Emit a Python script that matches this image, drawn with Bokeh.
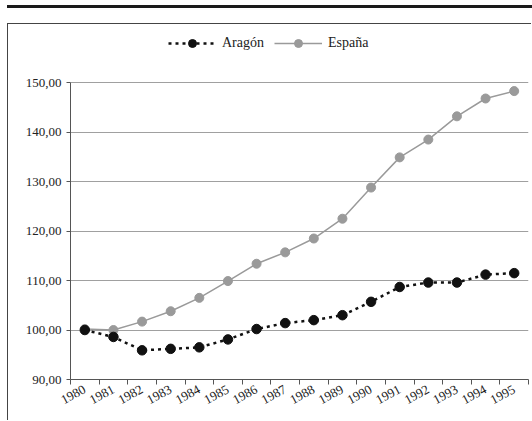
from bokeh.plotting import figure
from bokeh.models import FixedTicker, Legend, LegendItem, Range1d, Div
from bokeh.layouts import column
from bokeh.embed import file_html
from bokeh.resources import INLINE

years = ["1980", "1981", "1982", "1983", "1984", "1985", "1986", "1987",
         "1988", "1989", "1990", "1991", "1992", "1993", "1994", "1995"]
aragon = [100.0, 98.6, 95.9, 96.2, 96.5, 98.1, 100.2, 101.4,
          102.0, 103.0, 105.7, 108.7, 109.6, 109.6, 111.2, 111.5]
espana = [100.2, 100.0, 101.7, 103.8, 106.5, 109.9, 113.4, 115.7,
          118.5, 122.5, 128.8, 134.9, 138.5, 143.2, 146.8, 148.3]
y_ticks = [90, 100, 110, 120, 130, 140, 150]

FONT = "'Liberation Serif', 'Times New Roman', serif"
n = len(years)
x = list(range(n))

p = figure(frame_width=457, frame_height=354, output_backend="svg",
           toolbar_location=None,
           x_range=Range1d(-0.5, n - 0.5), y_range=Range1d(90, 161.76),
           min_border_left=62, min_border_right=4, min_border_top=0,
           min_border_bottom=42)
p.styles = {"border-left": "1px solid #444", "border-top": "1px solid #444"}
p.outline_line_color = None
p.background_fill_color = "white"

# x axis
p.xaxis.ticker = FixedTicker(ticks=x, minor_ticks=[i - 0.5 for i in range(n + 1)])
p.xaxis.major_label_overrides = {i: yv for i, yv in enumerate(years)}
p.xaxis.major_tick_out = 0
p.xaxis.major_tick_in = 0
p.xaxis.minor_tick_out = 5
p.xaxis.minor_tick_in = 0
p.xaxis.minor_tick_line_color = "#555555"
p.xaxis.axis_line_color = "#555555"
p.xaxis.major_label_orientation = 0.5
p.xaxis.major_label_standoff = 4
p.xaxis.major_label_text_font = FONT
p.xaxis.major_label_text_font_size = "13px"
p.xaxis.major_label_text_color = "#222222"

# y axis
p.yaxis.ticker = FixedTicker(ticks=y_ticks)
p.yaxis.bounds = (90, 150)
p.yaxis.major_label_overrides = {v: f"{v},00" for v in y_ticks}
p.yaxis.major_tick_out = 4
p.yaxis.major_tick_in = 0
p.yaxis.minor_tick_out = 0
p.yaxis.minor_tick_in = 0
p.yaxis.axis_line_color = "#555555"
p.yaxis.major_tick_line_color = "#555555"
p.yaxis.major_label_standoff = 5
p.yaxis.major_label_text_font = FONT
p.yaxis.major_label_text_font_size = "13px"
p.yaxis.major_label_text_color = "#222222"

p.xgrid.visible = False
p.ygrid.ticker = FixedTicker(ticks=y_ticks[1:])
p.ygrid.grid_line_color = "#a0a0a0"
p.ygrid.grid_line_width = 1

re = p.line(x, espana, line_color="#9a9a9a", line_width=1.5)
rec = p.scatter(x, espana, size=9, fill_color="#9a9a9a", line_color="#9a9a9a")
ra = p.line(x, aragon, line_color="#111111", line_width=2.5, line_dash="3 4")
rac = p.scatter(x, aragon, size=9.5, fill_color="#111111", line_color="#111111")

legend = Legend(items=[LegendItem(label="Aragón", renderers=[ra, rac]),
                       LegendItem(label="España", renderers=[re, rec])],
                orientation="horizontal", location=(98, 326),
                border_line_color=None, background_fill_alpha=0,
                label_text_font=FONT, label_text_font_size="14px",
                label_text_color="#222222",
                glyph_width=48, spacing=10, padding=0, margin=0,
                label_standoff=6)
p.add_layout(legend, "center")

top = Div(text="", width=525, height=18, margin=0,
          styles={"border-top": "3px solid #1a1a1a"})
layout = column(top, p, spacing=0, margin=(5, 0, 0, 7))

open("out.html", "w").write(file_html(layout, INLINE))
